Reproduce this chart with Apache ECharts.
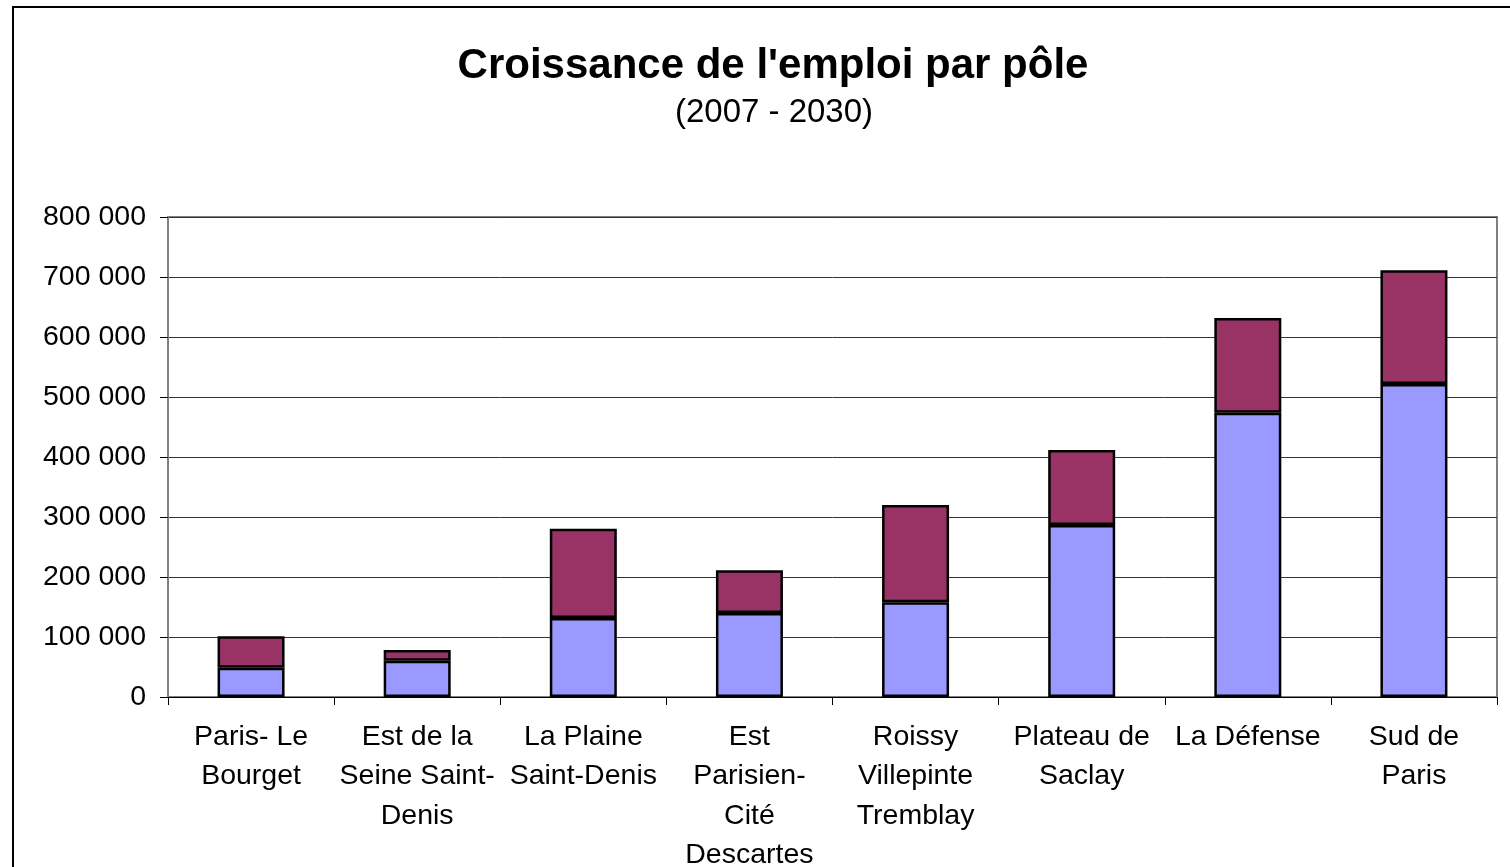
<!DOCTYPE html>
<html>
<head>
<meta charset="utf-8">
<style>
  html, body { margin: 0; padding: 0; background: #fff; overflow: hidden; }
  #main { width: 1510px; height: 867px; }
</style>
<script src="https://cdn.jsdelivr.net/npm/echarts@6/dist/echarts.min.js"></script>
</head>
<body>
<div id="main"></div>
<script>
// categories (pôles)
const categories = [
  'Paris- Le\nBourget',
  'Est de la\nSeine Saint-\nDenis',
  'La Plaine\nSaint-Denis',
  'Est\nParisien-\nCité\nDescartes',
  'Roissy\nVillepinte\nTremblay',
  'Plateau de\nSaclay',
  'La Défense',
  'Sud de\nParis'
]

// emplois 2007 (bas) et croissance jusqu'en 2030 (haut)
const emploi2007 = [48800, 60500, 131700, 140000, 157800, 286700, 473900, 521700]
const croissance = [52300, 17800, 148800, 71100, 162200, 125000, 157800, 189400]

const yTicks = { min: 0, max: 800000, interval: 100000 }

const fontFamily = '"Liberation Sans", Arial, sans-serif'

const chart = echarts.init(document.getElementById('main'))

// format "800 000"
const fmt = v => String(v).replace(/\B(?=(\d{3})+(?!\d))/g, ' ')

chart.setOption({
  animation: false,
  backgroundColor: '#fff',
  title: [
    {
      text: "Croissance de l'emploi par pôle",
      left: 773,
      top: 45,
      padding: 0,
      textAlign: 'center',
      textStyle: { fontFamily, fontSize: 42, fontWeight: 'bold', color: '#000' }
    },
    {
      text: '(2007 - 2030)',
      left: 774,
      top: 96,
      padding: 0,
      textAlign: 'center',
      textStyle: { fontFamily, fontSize: 33, fontWeight: 'normal', color: '#000' }
    }
  ],
  graphic: [
    {
      type: 'rect',
      z: -10,
      shape: { x: 13, y: 7, width: 1600, height: 1000 },
      style: { fill: 'none', stroke: '#000', lineWidth: 2 }
    }
  ],
  grid: {
    left: 168,
    width: 1329,
    top: 217,
    height: 480,
    show: true,
    borderColor: '#808080',
    borderWidth: 2,
    containLabel: false,
    outerBoundsMode: 'none'
  },
  xAxis: {
    type: 'category',
    data: categories,
    axisLine: { show: true, lineStyle: { color: '#000', width: 1 } },
    axisTick: { show: true, alignWithLabel: false, length: 8, lineStyle: { color: '#000' } },
    axisLabel: {
      interval: 0,
      margin: 20,
      color: '#000',
      fontFamily,
      fontSize: 28.5,
      lineHeight: 39.5
    }
  },
  yAxis: {
    type: 'value',
    min: yTicks.min,
    max: yTicks.max,
    interval: yTicks.interval,
    axisLine: { show: true, lineStyle: { color: '#808080', width: 2 } },
    axisTick: { show: true, length: 8, lineStyle: { color: '#000' } },
    axisLabel: {
      margin: 22,
      color: '#000',
      fontFamily,
      fontSize: 28.5,
      formatter: fmt
    },
    splitLine: { show: true, lineStyle: { color: '#333', width: 1 } }
  },
  series: [
    {
      name: '2007',
      type: 'bar',
      stack: 'total',
      barWidth: 67,
      data: emploi2007,
      itemStyle: { color: '#9999FF', borderColor: '#000', borderWidth: 2.5 }
    },
    {
      name: 'Croissance',
      type: 'bar',
      stack: 'total',
      barWidth: 67,
      data: croissance,
      itemStyle: { color: '#993366', borderColor: '#000', borderWidth: 2.5 }
    }
  ]
})
</script>
</body>
</html>
